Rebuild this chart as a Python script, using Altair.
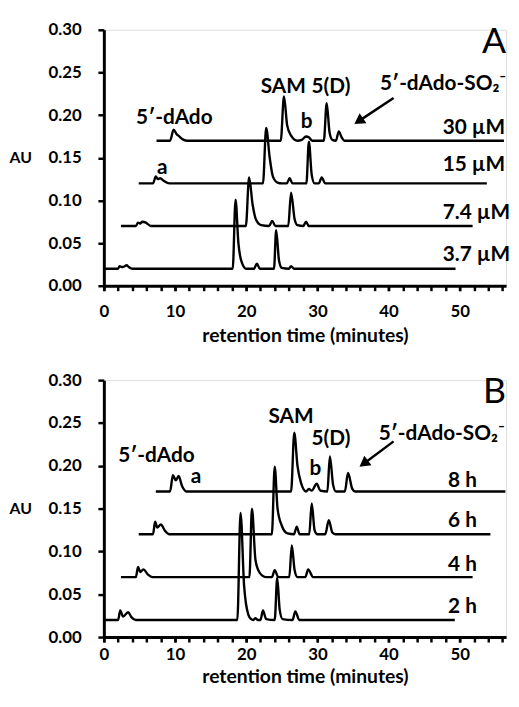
import altair as alt
import pandas as pd

FONT = "Lato"

# ---------------- Panel A traces (retention time, AU) ----------------
a1_name = "3.7 µM"
a1_t = [0, 2.0, 2.2, 2.5, 2.7, 3.2, 3.5, 4.0, 18.1, 18.5, 18.9, 19.35, 20.0, 21.1, 21.5, 21.9,
        23.9, 24.2, 24.6, 25.0, 26.0, 26.3, 26.7, 49.4]
a1_v = [0.020, 0.020, 0.023, 0.022, 0.022, 0.024, 0.022, 0.020, 0.020, 0.101, 0.050, 0.028, 0.020,
        0.020, 0.026, 0.020, 0.020, 0.065, 0.030, 0.021, 0.020, 0.023, 0.020, 0.020]

a2_name = "7.4 µM"
a2_t = [2.4, 4.5, 4.8, 5.1, 5.4, 5.9, 6.6, 19.95, 20.4, 20.9, 21.4, 22.1, 23.2, 23.65, 24.1,
        25.9, 26.3, 26.8, 27.2, 28.0, 28.4, 28.8, 51.8]
a2_v = [0.070, 0.070, 0.074, 0.073, 0.075, 0.074, 0.070, 0.070, 0.127, 0.095, 0.077, 0.071, 0.070,
        0.076, 0.070, 0.070, 0.109, 0.078, 0.071, 0.070, 0.075, 0.070, 0.070]

a3_name = "15 µM"
a3_t = [4.9, 6.9, 7.3, 7.6, 7.9, 8.4, 9.2, 22.35, 22.8, 23.3, 23.75, 24.4, 25.0, 25.7, 26.1, 26.5,
        28.45, 28.8, 29.2, 29.6, 30.2, 30.6, 31.1, 53.8]
a3_v = [0.120, 0.120, 0.128, 0.125, 0.126, 0.123, 0.120, 0.120, 0.185, 0.150, 0.128, 0.121, 0.120,
        0.120, 0.126, 0.120, 0.120, 0.169, 0.130, 0.120, 0.120, 0.127, 0.120, 0.120]

a4_name = "30 µM"
a4_t = [7.4, 9.3, 9.8, 10.2, 10.6, 11.0, 11.7, 24.85, 25.3, 25.75, 26.3, 27.2, 27.8, 28.4, 28.8,
        29.3, 30.9, 31.3, 31.7, 32.1, 32.6, 33.0, 33.4, 33.8, 56.2]
a4_v = [0.170, 0.170, 0.183, 0.178, 0.175, 0.172, 0.170, 0.170, 0.222, 0.188, 0.176, 0.170, 0.171,
        0.175, 0.174, 0.170, 0.170, 0.214, 0.180, 0.171, 0.170, 0.181, 0.174, 0.170, 0.170]

# ---------------- Panel B traces ----------------
b1_name = "2 h"
b1_t = [0, 2.0, 2.3, 2.7, 3.4, 3.9, 4.5, 18.75, 19.2, 19.7, 20.3, 20.7, 21.0, 21.3, 21.6, 22.0,
        22.35, 22.8, 24.0, 24.35, 24.7, 25.1, 26.5, 26.9, 27.45, 49.3]
b1_v = [0.020, 0.020, 0.031, 0.024, 0.029, 0.023, 0.020, 0.020, 0.145, 0.060, 0.026, 0.021, 0.020,
        0.022, 0.020, 0.020, 0.031, 0.021, 0.020, 0.069, 0.032, 0.021, 0.020, 0.030, 0.020, 0.020]

b2_name = "4 h"
b2_t = [2.4, 4.5, 4.8, 5.1, 5.55, 6.2, 6.85, 20.45, 20.8, 21.3, 21.9, 22.8, 23.6, 24.0, 24.5,
        26.05, 26.4, 26.8, 27.2, 28.3, 28.7, 29.4, 51.8]
b2_v = [0.070, 0.070, 0.082, 0.076, 0.079, 0.073, 0.070, 0.070, 0.150, 0.090, 0.075, 0.070, 0.070,
        0.078, 0.070, 0.070, 0.107, 0.078, 0.070, 0.070, 0.079, 0.070, 0.070]

b3_name = "6 h"
b3_t = [4.9, 6.9, 7.2, 7.5, 8.0, 8.6, 9.2, 23.6, 24.0, 24.4, 25.0, 25.8, 26.7, 27.1, 27.5,
        28.85, 29.2, 29.6, 30.0, 31.1, 31.6, 32.1, 32.5, 54.3]
b3_v = [0.120, 0.120, 0.1346, 0.128, 0.1315, 0.124, 0.120, 0.120, 0.199, 0.150, 0.130, 0.121, 0.120,
        0.129, 0.120, 0.120, 0.156, 0.125, 0.120, 0.120, 0.1365, 0.122, 0.120, 0.120]

b4_name = "8 h"
b4_t = [7.3, 9.3, 9.7, 10.1, 10.5, 11.0, 11.6, 26.3, 26.75, 27.2, 27.7, 28.4, 28.8, 29.2, 29.9,
        30.4, 31.4, 31.75, 32.2, 32.6, 33.85, 34.3, 34.9, 35.3, 56.4]
b4_v = [0.170, 0.170, 0.189, 0.183, 0.188, 0.176, 0.170, 0.170, 0.2385, 0.200, 0.180, 0.170, 0.173,
        0.171, 0.179, 0.171, 0.170, 0.211, 0.178, 0.170, 0.170, 0.1915, 0.173, 0.170, 0.170]

# ---------------- Axis ticks ----------------
x_major = [0, 10, 20, 30, 40, 50]
x_minor = list(range(0, 57, 2))
y_ticks = [0, 0.05, 0.10, 0.15, 0.20, 0.25, 0.30]

# ---------------- Annotation text ----------------
a_lab_text = ["5′-dAdo", "SAM", "5(D)", "b", "a"]
a_lab_x = [9.9, 25.2, 31.9, 28.5, 8.2]
a_lab_y = [0.197, 0.2326, 0.2326, 0.192, 0.1377]

b_lab_text = ["5′-dAdo", "SAM", "5(D)", "b", "a"]
b_lab_x = [7.4, 26.3, 31.9, 29.7, 12.95]
b_lab_y = [0.211, 0.257, 0.231, 0.196, 0.187]

so2_text = "5′-dAdo-SO₂⁻"
a_so2 = (38.8, 0.236)
b_so2 = (38.6, 0.2365)

a_conc_text = ["30 µM", "15 µM", "7.4 µM", "3.7 µM"]
a_conc_y = [0.185, 0.141, 0.0856, 0.0359]
a_conc_x = 47.6
b_conc_text = ["8 h", "6 h", "4 h", "2 h"]
b_conc_y = [0.182, 0.135, 0.084, 0.0346]
b_conc_x = 52.4

# arrows: start (x, y), end (x, y), head angle
a_arrow = [40.7, 0.220, 35.8, 0.193, 235.7]
b_arrow = [40.7, 0.2285, 36.5, 0.2025, 233.4]

X_MAX = 56.5
W = 407


def traces_df(names, ts, vs):
    rows = []
    for n, t, v in zip(names, ts, vs):
        for ti, vi in zip(t, v):
            rows.append({"trace": n, "t": ti, "v": vi})
    return pd.DataFrame(rows)


def panel(tr, lab_text, lab_x, lab_y, so2_pos, conc_text, conc_x, conc_y, conc_align, arrow, letter,
          H, lab_pad, title_pad):
    xs = alt.Scale(domain=[0, X_MAX], nice=False, zero=False)
    ys = alt.Scale(domain=[0, 0.30], nice=False)
    xaxis = alt.Axis(values=x_major, labelOverlap=False, labelFlush=False,
                     title="retention time (minutes)", grid=False, tickSize=5, tickWidth=2.5,
                     domainWidth=3, domainColor="black", tickColor="black", orient="bottom",
                     labelFont=FONT, labelFontSize=17, labelFontWeight="bold", labelColor="black",
                     labelPadding=lab_pad, titleFont=FONT, titleFontSize=19.5, titleFontWeight="bold",
                     titleColor="black", titlePadding=title_pad)
    xminor = alt.Axis(values=x_minor, labels=False, domain=False, title=None, grid=False,
                      tickSize=5, tickWidth=2.5, tickColor="black", orient="bottom")
    yaxis = alt.Axis(values=y_ticks, format=".2f",
                     labelOverlap=False, labelFlush=False,
                     title="AU", titleAngle=0, titleX=-96, titleY=H / 2, titleAlign="left",
                     titleBaseline="middle", grid=False, tickSize=6, tickWidth=2.5,
                     domainWidth=3, domainColor="black", tickColor="black",
                     labelFont=FONT, labelFontSize=17, labelFontWeight="bold", labelColor="black",
                     labelPadding=17, titleFont=FONT, titleFontSize=16, titleFontWeight="bold",
                     titleColor="black")

    lines = alt.Chart(tr).mark_line(color="black", strokeWidth=2.4, interpolate="monotone").encode(
        x=alt.X("t:Q", scale=xs, axis=xaxis),
        y=alt.Y("v:Q", scale=ys, axis=yaxis),
        detail="trace:N",
    )

    labs = alt.Chart(pd.DataFrame({"text": lab_text, "x": lab_x, "y": lab_y})).mark_text(
        font=FONT, fontSize=21, fontWeight="bold", color="black", align="center", baseline="middle"
    ).encode(x=alt.X("x:Q", scale=xs, axis=xminor), y=alt.Y("y:Q", scale=ys), text="text:N")

    so2 = alt.Chart(pd.DataFrame({"text": [so2_text], "x": [so2_pos[0]], "y": [so2_pos[1]]})).mark_text(
        font=FONT, fontSize=21, fontWeight="bold", color="black", align="left", baseline="middle"
    ).encode(x=alt.X("x:Q", scale=xs, axis=xminor), y=alt.Y("y:Q", scale=ys), text="text:N")

    conc = alt.Chart(pd.DataFrame({"text": conc_text, "x": [conc_x] * len(conc_text), "y": conc_y})).mark_text(
        font=FONT, fontSize=21, fontWeight="bold", color="black", align=conc_align, baseline="middle"
    ).encode(x=alt.X("x:Q", scale=xs, axis=xminor), y=alt.Y("y:Q", scale=ys), text="text:N")

    let = alt.Chart(pd.DataFrame({"text": [letter], "x": [X_MAX], "y": [0.286]})).mark_text(
        font=FONT, fontSize=36, color="black", align="right", baseline="middle"
    ).encode(x=alt.X("x:Q", scale=xs, axis=xminor), y=alt.Y("y:Q", scale=ys), text="text:N")

    adf = pd.DataFrame({"x": [arrow[0]], "y": [arrow[1]], "x2": [arrow[2]], "y2": [arrow[3]]})
    shaft = alt.Chart(adf).mark_rule(color="black", strokeWidth=2.5).encode(
        x=alt.X("x:Q", scale=xs, axis=xminor), y=alt.Y("y:Q", scale=ys), x2="x2:Q", y2="y2:Q")
    head = alt.Chart(adf).mark_point(shape="triangle-up", filled=True, color="black", opacity=1,
                                     size=150, angle=arrow[4]).encode(
        x=alt.X("x2:Q", scale=xs, axis=xminor), y=alt.Y("y2:Q", scale=ys))

    minor = alt.layer(labs, so2, conc, let, shaft, head)
    return alt.layer(lines, minor).resolve_axis(x="independent").properties(width=W, height=H)


trA = traces_df([a1_name, a2_name, a3_name, a4_name], [a1_t, a2_t, a3_t, a4_t], [a1_v, a2_v, a3_v, a4_v])
trB = traces_df([b1_name, b2_name, b3_name, b4_name], [b1_t, b2_t, b3_t, b4_t], [b1_v, b2_v, b3_v, b4_v])

pA = panel(trA, a_lab_text, a_lab_x, a_lab_y, a_so2, a_conc_text, a_conc_x, a_conc_y, "left", a_arrow, "A",
           259, 13.5, 6.5)
pB = panel(trB, b_lab_text, b_lab_x, b_lab_y, b_so2, b_conc_text, b_conc_x, b_conc_y, "right", b_arrow, "B",
           260, 4.5, 5.5)

chart = alt.vconcat(pA, pB, spacing=25.5).properties(
    padding={"left": 0, "top": 8, "right": 0, "bottom": 0}
).configure_view(stroke=None).configure(background="white")

chart.save("out.html", embed_options={"renderer": "svg", "actions": False})
